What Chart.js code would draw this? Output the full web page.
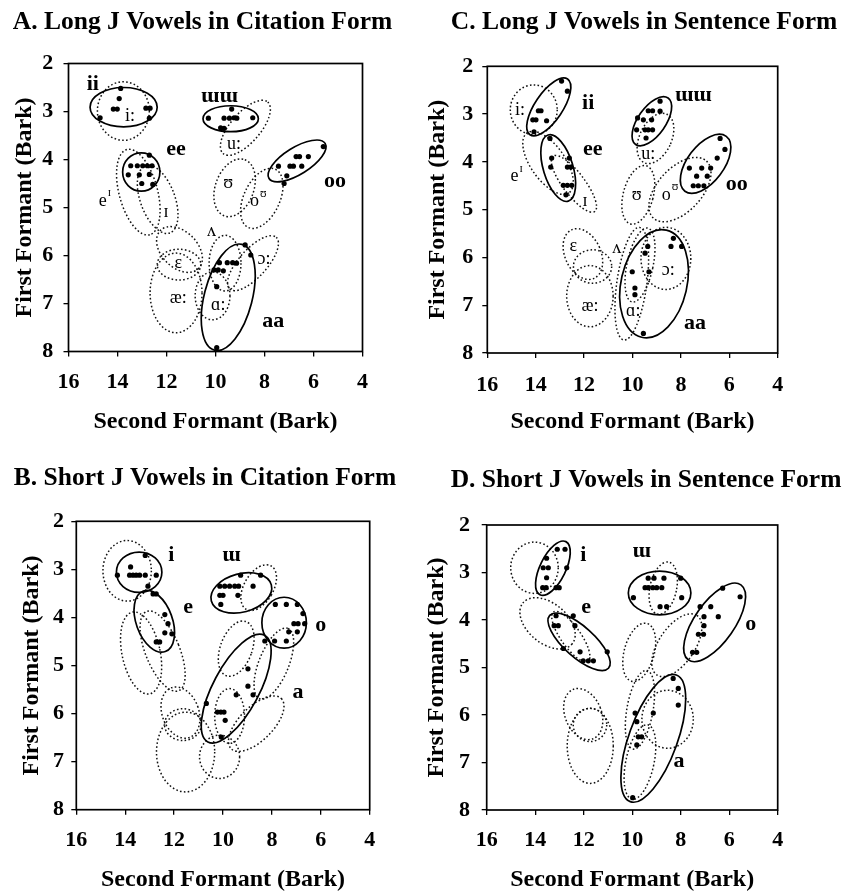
<!DOCTYPE html>
<html><head><meta charset="utf-8">
<script src="https://cdn.jsdelivr.net/npm/chart.js@4.4.1/dist/chart.umd.min.js"></script>
<style>
html,body{margin:0;padding:0;background:#fff;overflow:hidden;width:843px;height:892px;position:relative}
canvas{position:absolute}
</style></head><body>
<canvas id="cA"></canvas><canvas id="cC"></canvas><canvas id="cB"></canvas><canvas id="cD"></canvas>
<script>
// ---------- data ----------
const F2_TICKS = [4, 6, 8, 10, 12, 14, 16];
const F1_TICKS = [2, 3, 4, 5, 6, 7, 8];
const X_TITLE = 'Second Formant (Bark)';
const Y_TITLE = 'First Formant (Bark)';

// Points: [F2, F1]; ellipses: [F2, F1, semi-axis in F2 units, semi-axis in F1 units, tilt deg]
// Labels: [text, F2, F1, kind, superscript]
const A_TITLE = 'A. Long J Vowels in Citation Form';
const A_POINTS = [
  [13.87,2.52],[13.93,2.73],[14.17,2.95],[14.01,2.95],[14.71,3.13],[12.84,2.93],[12.67,2.93],[12.70,3.14],
  [10.29,3.14],[9.34,2.95],[9.65,3.14],[9.43,3.14],[9.24,3.13],[9.13,3.14],[8.48,3.13],[9.79,3.34],[9.65,3.35],
  [12.70,3.91],[13.46,4.13],[13.19,4.13],[12.97,4.13],[12.78,4.13],[12.59,4.13],[13.56,4.32],[13.11,4.32],[12.70,4.31],[13.01,4.50],[12.56,4.52],
  [5.60,3.73],[6.71,3.94],[6.57,3.94],[6.21,3.94],[7.43,4.14],[6.96,4.14],[6.82,4.14],[6.48,4.14],[7.09,4.34],[7.20,4.50],
  [8.79,5.78],[8.56,5.99],[9.84,6.15],[9.52,6.15],[9.30,6.15],[9.14,6.16],[10.06,6.30],[9.89,6.30],[9.68,6.32],[9.95,6.65],[9.95,7.92]
];
const A_SOLID = [
  [13.75,2.91,1.37,0.41,0],[9.38,3.15,1.13,0.27,0],[13.03,4.26,0.76,0.40,0],
  [6.67,4.03,1.35,0.28,-32],[9.48,6.87,2.23,0.50,-75.5]
];
const A_DOTTED = [
  [13.76,2.99,1.06,0.61,0],[8.78,3.34,1.39,0.31,-49],[9.22,4.59,1.22,0.40,-70],[8.11,4.81,1.31,0.375,-65],
  [13.15,4.68,1.80,0.40,75],[12.36,4.83,1.46,0.36,70],[11.47,5.875,1.10,0.375,45],[11.49,6.19,0.89,0.32,0],
  [11.61,6.78,1.06,0.83,0],[9.61,6.16,0.65,0.58,0],[8.47,6.16,1.42,0.29,-48],[10.12,6.84,0.71,0.50,0]
];
const A_LABELS = [
  ['ii',15.01,2.43,'b'],['ɯɯ',9.84,2.69,'b'],['ee',11.61,3.79,'b'],['oo',5.12,4.46,'b'],['aa',7.64,7.38,'b'],
  ['i:',13.49,3.09,'i'],['u:',9.24,3.68,'i'],['ʊ',9.48,4.50,'i'],['o',8.25,4.88,'i','ʊ'],['e',14.51,4.86,'i','ɪ'],
  ['ɪ',12.02,5.09,'i'],['ʌ',10.16,5.50,'i'],['ɛ',11.52,6.16,'i'],['ɔ:',8.02,6.07,'i'],['æ:',11.52,6.89,'i'],['ɑ:',9.89,7.03,'i']
];

const C_TITLE = 'C. Long J Vowels in Sentence Form';
const C_POINTS = [
  [12.93,2.31],[12.69,2.52],[13.89,2.93],[13.78,2.93],[14.12,3.12],[13.99,3.12],[13.55,3.14],[14.07,3.37],
  [13.41,3.51],[13.34,3.92],[13.38,4.11],[12.61,3.92],[12.69,4.11],[12.55,4.11],[12.86,4.49],[12.69,4.49],[12.51,4.49],[12.75,4.69],
  [8.86,2.73],[9.35,2.93],[9.17,2.93],[8.86,2.94],[9.55,3.12],[9.21,3.12],[9.48,3.33],[9.35,3.33],[9.17,3.33],[9.44,3.50],[9.83,3.33],[9.79,3.08],
  [6.38,3.51],[6.18,3.74],[6.50,3.92],[7.65,4.13],[7.14,4.13],[6.77,4.13],[7.35,4.30],[6.91,4.30],[7.49,4.50],[7.28,4.50],[7.05,4.50],
  [8.31,5.60],[7.97,5.77],[8.41,5.77],[9.37,5.77],[9.48,5.91],[10.01,6.30],[9.32,6.30],[9.90,6.64],[9.90,6.78],[9.55,7.59]
];
const C_SOLID = [
  [13.46,2.85,1.39,0.29,-56],[13.07,4.13,1.43,0.31,73],[9.20,3.15,1.17,0.29,-55],
  [6.98,4.04,1.42,0.38,-53],[9.11,6.55,1.36,1.15,13]
];
const C_DOTTED = [
  [14.08,2.91,0.97,0.52,0],[13.49,4.02,1.51,0.36,55],[12.42,4.46,1.43,0.23,53],[9.05,3.51,0.66,0.56,25],
  [9.76,4.69,0.62,0.63,15],[8.04,4.58,1.61,0.46,-47],[12.05,5.93,0.74,0.56,-25],[11.65,6.19,0.79,0.35,0],
  [11.76,6.81,0.96,0.64,0],[10.03,6.55,0.62,1.19,8],[9.69,6.16,0.54,0.79,12],[8.62,6.02,1.03,0.65,0]
];
const C_LABELS = [
  ['ii',11.83,2.77,'b'],['ɯɯ',7.49,2.61,'b'],['ee',11.64,3.74,'b'],['oo',5.69,4.48,'b'],['aa',7.42,7.37,'b'],
  ['i:',14.65,2.91,'i'],['e',14.79,4.31,'i','ɪ'],['ɪ',11.96,4.82,'i'],['u:',9.35,3.85,'i'],['ʊ',9.83,4.69,'i'],
  ['o',8.45,4.69,'i','ʊ'],['ɛ',12.45,5.77,'i'],['ʌ',10.65,5.81,'i'],['æ:',11.76,7.03,'i'],['ɑ:',9.97,7.13,'i'],['ɔ:',8.52,6.26,'i']
];

const B_TITLE = 'B. Short J Vowels in Citation Form';
const B_POINTS = [
  [13.18,2.71],[13.78,2.95],[14.32,3.12],[13.82,3.12],[13.68,3.12],[13.55,3.12],[13.41,3.12],[13.18,3.12],[12.73,3.12],[13.07,3.35],
  [12.86,3.51],[12.73,3.51],[12.38,3.94],[12.25,4.13],[12.38,4.32],[12.09,4.34],[12.73,4.51],[12.59,4.51],
  [9.28,3.12],[8.46,3.12],[8.77,3.35],[10.13,3.35],[9.93,3.35],[9.73,3.35],[9.52,3.35],[9.36,3.35],[10.13,3.54],[10.00,3.54],[9.39,3.54],[10.09,3.73],
  [7.86,3.73],[7.41,3.73],[6.96,3.73],[6.73,3.92],[7.10,4.13],[6.93,4.13],[6.66,4.13],[7.31,4.30],[6.96,4.30],[8.29,4.49],[7.89,4.49],[7.41,4.49],
  [8.98,5.07],[8.98,5.43],[9.46,5.61],[8.77,5.61],[10.68,5.79],[10.23,5.97],[10.09,5.97],[9.96,5.97],[9.91,6.14],[10.07,6.49]
];
const B_SOLID = [
  [13.43,3.06,0.93,0.42,0],[12.81,4.08,0.74,0.67,-20],[9.25,3.49,1.27,0.40,-15],
  [7.50,4.11,0.91,0.53,0],[9.46,5.48,2.47,0.48,-62]
];
const B_DOTTED = [
  [13.92,3.03,0.99,0.63,0],[13.35,4.74,0.78,0.87,-12],[12.47,4.70,0.70,0.89,-22],[11.74,5.98,0.75,0.55,-20],
  [11.64,6.23,0.75,0.33,0],[11.53,6.80,1.19,0.83,0],[10.14,6.90,0.82,0.45,0],[8.64,6.21,1.45,0.35,-45],
  [9.73,6.05,0.61,0.57,0],[9.46,4.65,0.65,0.60,20],[7.92,4.96,1.55,0.31,-68],[8.54,3.38,0.60,0.52,30]
];
const B_LABELS = [['i',12.11,2.71,'b'],['ɯ',9.66,2.71,'b'],['e',11.43,3.78,'b'],['o',6.00,4.16,'b'],['a',6.93,5.55,'b']];

const D_TITLE = 'D. Short J Vowels in Sentence Form';
const D_POINTS = [
  [13.09,2.51],[12.77,2.51],[13.53,2.70],[13.67,2.90],[13.46,2.90],[12.70,2.90],[13.53,3.11],[13.69,3.32],[13.55,3.32],[13.14,3.32],[13.01,3.32],
  [13.14,3.91],[12.43,3.91],[13.22,4.12],[13.05,4.12],[12.36,4.12],[12.84,4.60],[12.15,4.67],[11.03,4.67],[12.02,4.86],[11.81,4.86],[11.60,4.86],
  [9.34,3.12],[9.10,3.12],[8.69,3.12],[8.00,3.12],[9.47,3.32],[9.34,3.32],[9.15,3.32],[8.99,3.32],[8.78,3.32],[9.95,3.53],[7.96,3.53],[8.85,3.72],[8.58,3.72],
  [6.27,3.33],[5.55,3.51],[7.20,3.72],[6.76,3.72],[7.04,3.93],[6.45,3.93],[7.04,4.12],[7.27,4.30],[7.06,4.30],[7.51,4.68],[7.34,4.68],
  [8.31,5.23],[8.10,5.44],[8.10,5.79],[9.13,5.96],[9.88,5.96],[9.81,6.14],[9.75,6.46],[9.61,6.46],[9.81,6.63],[9.98,7.74]
];
const D_SOLID = [
  [13.27,2.91,1.22,0.27,-64],[12.19,4.46,1.63,0.32,42],[8.87,3.43,1.29,0.46,0],
  [6.60,4.05,1.89,0.42,-55],[9.13,6.49,2.78,0.51,-70]
];
const D_DOTTED = [
  [14.03,2.90,0.98,0.54,0],[13.49,4.07,1.32,0.42,40],[12.53,4.35,1.24,0.21,55],[8.72,3.33,0.55,0.56,12],
  [9.71,4.68,0.62,0.63,15],[8.16,4.53,1.48,0.38,-56],[12.02,5.98,0.75,0.56,-22],[11.74,6.21,0.69,0.35,0],
  [11.73,6.65,0.95,0.79,0],[8.54,6.09,1.06,0.61,0],[9.68,5.89,0.54,0.84,10],[9.68,6.99,0.58,0.80,12]
];
const D_LABELS = [['i',12.02,2.63,'b'],['ɯ',9.61,2.56,'b'],['e',11.90,3.74,'b'],['o',5.11,4.09,'b'],['a',8.07,6.98,'b']];

// ---------- layout & style ----------
const SERIF = '"Liberation Serif","Times New Roman","DejaVu Serif",serif';
const TITLE_FS = 25.5, AXIS_FS = 24, TICK_FS = 22, BOLD_LBL_FS = 22, IPA_FS = 18, TICK_LEN = 5;
const LAYOUT = {
  A: {left:0,   top:0,   h:446, plot:[68.5,362.5,63.5,351.5], titleX:202.5, titleY:22.5, yTitleX:25,    xTitleY:421.5, xTickY:382.5, yTickR:53.3},
  C: {left:421, top:0,   h:446, plot:[487.3,777.7,66.3,353],  titleX:644,   titleY:22.8, yTitleX:437.3, xTitleY:421.5, xTickY:385,   yTickR:473.3},
  B: {left:0,   top:446, h:450, plot:[76.3,369.7,521.3,809.7],titleX:205,   titleY:478.7,yTitleX:31.7,  xTitleY:880,   xTickY:840.8, yTickR:64},
  D: {left:421, top:446, h:450, plot:[486.7,777.7,525,810],   titleX:646,   titleY:480,  yTitleX:436.7, xTitleY:880,   xTickY:840.8, yTickR:470}
};

Chart.defaults.font.family = SERIF;
Chart.defaults.color = '#000';

const overlay = {
  id: 'vowelOverlay',
  beforeDatasetsDraw(chart, args, o) {
    const {ctx, chartArea: a} = chart;
    const x = chart.scales.x, y = chart.scales.y;
    const sx = Math.abs(x.getPixelForValue(1) - x.getPixelForValue(0));
    const sy = Math.abs(y.getPixelForValue(1) - y.getPixelForValue(0));
    ctx.save();
    ctx.beginPath(); ctx.rect(a.left, a.top, a.right - a.left, a.bottom - a.top); ctx.clip();
    const ell = e => {
      ctx.beginPath();
      ctx.ellipse(x.getPixelForValue(e[0]), y.getPixelForValue(e[1]), e[2] * sx, e[3] * sy, e[4] * Math.PI / 180, 0, Math.PI * 2);
      ctx.stroke();
    };
    ctx.strokeStyle = '#111'; ctx.lineWidth = 1.5; ctx.setLineDash([1.6, 2.3]);
    o.dotted.forEach(ell);
    ctx.setLineDash([]); ctx.strokeStyle = '#000'; ctx.lineWidth = 1.7;
    o.solid.forEach(ell);
    ctx.fillStyle = '#000'; ctx.textBaseline = 'middle';
    const mainFont = l => l[3] === 'b' ? `bold ${BOLD_LBL_FS}px ${SERIF}` : `${IPA_FS}px ${SERIF}`;
    const supFont = `${Math.round(IPA_FS * 0.65)}px ${SERIF}`;
    o.labels.forEach(l => {
      const px = x.getPixelForValue(l[1]), py = y.getPixelForValue(l[2]);
      ctx.font = mainFont(l);
      const w = ctx.measureText(l[0]).width;
      let sw = 0;
      if (l[4]) { ctx.font = supFont; sw = ctx.measureText(l[4]).width + 1; }
      const x0 = px - (w + sw) / 2;
      ctx.textAlign = 'left';
      ctx.font = mainFont(l);
      ctx.fillText(l[0], x0, py);
      if (l[4]) {
        ctx.font = supFont;
        ctx.fillText(l[4], x0 + w + 1, py - IPA_FS * 0.42);
      }
    });
    ctx.restore();
  },
  afterDraw(chart) {
    const {ctx, chartArea: a} = chart;
    ctx.save(); ctx.strokeStyle = '#000'; ctx.lineWidth = 1.7;
    ctx.strokeRect(a.left, a.top, a.right - a.left, a.bottom - a.top);
    ctx.restore();
  }
};

function build(id, title, points, solid, dotted, labels) {
  const L = LAYOUT[id];
  const W = Math.round(2 * (L.titleX - L.left)), H = L.h;
  const cv = document.getElementById('c' + id);
  cv.width = W; cv.height = H;
  Object.assign(cv.style, {left: L.left + 'px', top: L.top + 'px', width: W + 'px', height: H + 'px'});
  const [pl, pr, pt, pb] = L.plot;
  const yW = pl - L.left, rW = L.left + W - pr, xH = L.top + H - pb;
  const tlh = TITLE_FS * 1.2, alh = AXIS_FS * 1.2, klh = TICK_FS * 1.2;
  const tPadTop = (L.titleY - L.top) - tlh / 2;
  const tPadBot = (pt - L.top) - tPadTop - tlh;
  const grid = {display: true, drawOnChartArea: false, drawTicks: true, tickLength: TICK_LEN, color: '#000', lineWidth: 1.3};
  new Chart(cv, {
    type: 'scatter',
    data: {datasets: [{data: points.map(p => ({x: p[0], y: p[1]})), pointRadius: 2.6, pointBackgroundColor: '#000', pointBorderWidth: 0}]},
    options: {
      responsive: false, maintainAspectRatio: false, animation: false, devicePixelRatio: 1,
      layout: {padding: 0},
      plugins: {
        legend: {display: false}, tooltip: {enabled: false},
        title: {display: true, text: title, color: '#000', font: {size: TITLE_FS, weight: 'bold', lineHeight: 1.2}, padding: {top: tPadTop, bottom: tPadBot}},
        vowelOverlay: {solid, dotted, labels}
      },
      scales: {
        x: {
          type: 'linear', position: 'bottom', min: 4, max: 16, reverse: true,
          afterBuildTicks: s => { s.ticks = F2_TICKS.map(v => ({value: v})); },
          afterFit: s => { s.height = xH; },
          grid, border: {display: false},
          ticks: {font: {size: TICK_FS, weight: 'bold', lineHeight: 1.2}, color: '#000', maxRotation: 0, autoSkip: false,
                  padding: L.xTickY - pb - TICK_LEN - klh / 2},
          title: {display: true, text: X_TITLE, color: '#000', font: {size: AXIS_FS, weight: 'bold', lineHeight: 1.2},
                  padding: {top: 0, bottom: (L.top + H - L.xTitleY) - alh / 2}}
        },
        y: {
          type: 'linear', position: 'left', min: 2, max: 8, reverse: true,
          afterBuildTicks: s => { s.ticks = F1_TICKS.map(v => ({value: v})); },
          afterFit: s => { s.width = yW; },
          grid, border: {display: false},
          ticks: {font: {size: TICK_FS, weight: 'bold', lineHeight: 1.2}, color: '#000', autoSkip: false,
                  padding: pl - TICK_LEN - L.yTickR},
          title: {display: true, text: Y_TITLE, color: '#000', font: {size: AXIS_FS, weight: 'bold', lineHeight: 1.2},
                  padding: {top: (L.yTitleX - L.left) - alh / 2, bottom: 0}}
        },
        y2: {
          type: 'linear', position: 'right', min: 2, max: 8, display: true,
          afterFit: s => { s.width = rW; },
          grid: {display: false}, border: {display: false}, ticks: {display: false}, title: {display: false}
        }
      }
    },
    plugins: [overlay]
  });
}

build('A', A_TITLE, A_POINTS, A_SOLID, A_DOTTED, A_LABELS);
build('C', C_TITLE, C_POINTS, C_SOLID, C_DOTTED, C_LABELS);
build('B', B_TITLE, B_POINTS, B_SOLID, B_DOTTED, B_LABELS);
build('D', D_TITLE, D_POINTS, D_SOLID, D_DOTTED, D_LABELS);
</script>
</body></html>
